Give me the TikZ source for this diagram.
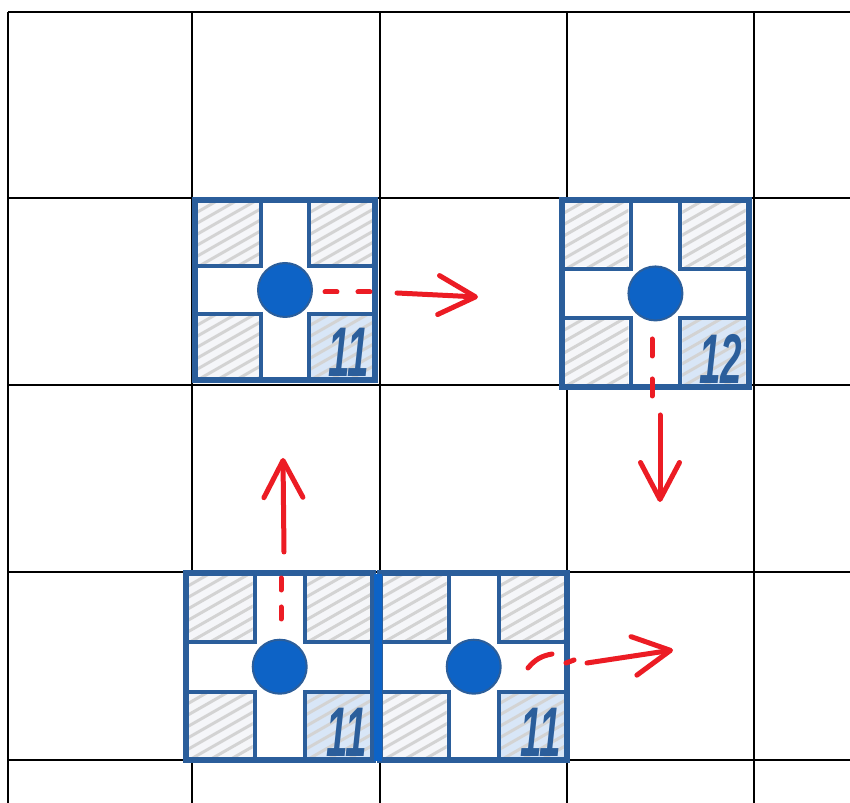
\documentclass[tikz,border=0pt]{standalone}
\usepackage{fontspec}
\newfontfamily\numfont[FakeStretch=0.55]{Liberation Sans}
\usetikzlibrary{arrows.meta}
\definecolor{tileblue}{HTML}{2B5E9B}
\definecolor{dotblue}{HTML}{0D63C6}
\definecolor{hatchgray}{HTML}{D3D3D3}
\definecolor{sqgray}{HTML}{F5F6F9}
\definecolor{sqblue}{HTML}{D8E6F7}
\definecolor{penred}{HTML}{EC1C24}

\tikzset{
  gridline/.style={black, line width=0.03cm},
  border/.style={tileblue, line width=0.12cm},
  inner/.style={tileblue, line width=0.08cm},
  hatch/.style={hatchgray, line width=0.06cm, line cap=round},
  dot/.style={circle, fill=dotblue, draw=tileblue, line width=0.04cm, minimum size=1.08cm, inner sep=0pt},
  numlabel/.style={anchor=south east, inner sep=0pt, text=tileblue, font=\numfont\bfseries\itshape\fontsize{40}{40}\selectfont},
  pen/.style={penred, line width=0.1cm, line cap=round, line join=round},
  penarrow/.style={pen, -{Straight Barb[length=0.74cm, width=0.78cm, round]}},
  seam/.style={dotblue, line width=0.16cm}
}

% one tile: name, x, y, scale, label
\newcommand{\drawtile}[5]{%
  \begin{scope}[shift={(#2,#3)}, scale=#4]
    \fill[white] (0,0) rectangle (186,186);
    \foreach \a/\b/\c in {6/6/sqgray, 119/6/sqgray, 6/119/sqgray, 119/119/sqblue}{
      \begin{scope}
        \clip (\a,\b) rectangle ++(61,61);
        \fill[fill=\c] (\a,\b) rectangle ++(61,61);
        \foreach \k in {0,...,9}
          \draw[hatch] (\a-4,\b+11*\k) -- ++(70,-40);
      \end{scope}
      \draw[inner] (\a-2,\b-2) rectangle ++(65,65);
    }
    \draw[border] (3,3) rectangle (183,183);
    \node[dot] (#1) at (93,93) {};
    \node[numlabel] (#1num) at (177,180) {#5};
  \end{scope}}

\begin{document}
\begin{tikzpicture}[x=0.02cm, y=-0.02cm]
  \useasboundingbox (0,0) rectangle (850,803);
  \fill[white] (0,0) rectangle (850,803);
  % grid
  \foreach \x in {8,192,380,567,754}
    \draw[gridline] (\x,12) -- (\x,803);
  \foreach \y in {12,198,385,572,760}
    \draw[gridline] (8,\y) -- (850,\y);
  % tiles
  \drawtile{dotA}{192}{197}{1.0}{11}
  \drawtile{dotB}{559}{197}{1.037}{12}
  \drawtile{dotC}{183}{570}{1.04}{11}
  \drawtile{dotD}{377}{570}{1.04}{11}
  \draw[seam] (378,574) -- (378,761);
  % moves
  \coordinate (dA1) at (325,292); \coordinate (dA2) at (375,292);
  \coordinate (rA1) at (397,293); \coordinate (rA2) at (478,297);
  \draw[pen, dash pattern=on 0.24cm off 0.42cm] (dA1) -- (dA2);
  \draw[penarrow] (rA1) -- (rA2);
  \coordinate (dB1) at (652,339); \coordinate (dB2) at (652,397);
  \coordinate (rB1) at (660,415); \coordinate (rB2) at (660,502);
  \draw[pen, dash pattern=on 0.34cm off 0.46cm] (dB1) -- (dB2);
  \draw[penarrow] (rB1) -- (rB2);
  \coordinate (dC1) at (281,619); \coordinate (dC2) at (281,578);
  \coordinate (rC1) at (284,552); \coordinate (rC2) at (283,458);
  \draw[pen, dash pattern=on 0.24cm off 0.34cm] (dC1) -- (dC2);
  \draw[penarrow] (rC1) -- (rC2);
  \coordinate (dD1) at (528,668); \coordinate (dD2) at (552,654);
  \coordinate (rD1) at (587,663); \coordinate (rD2) at (673,650);
  \draw[pen] (dD1) to[bend left=20] (dD2);
  \draw[pen] (566,663) -- (574,660);
  \draw[penarrow] (rD1) -- (rD2);
\end{tikzpicture}
\end{document}
